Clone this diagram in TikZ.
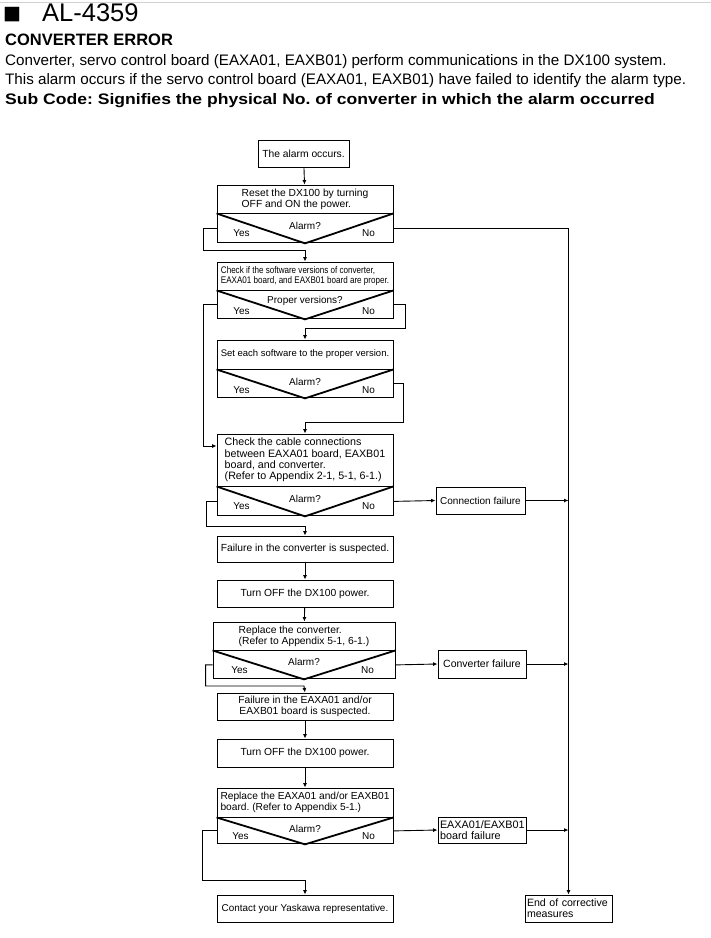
\documentclass[tikz,border=0pt]{standalone}
\usepackage{fontspec}
\setmainfont{Liberation Sans}
\newfontfamily\symfont{DejaVu Sans}
\newfontfamily\narrowfont[FakeStretch=0.84]{Liberation Sans}
\newfontfamily\widefont[FakeStretch=1.155]{Liberation Sans}
\frenchspacing
\usetikzlibrary{arrows.meta,positioning}

\tikzset{
  box/.style={draw, line width=0.9pt, inner sep=0pt, minimum width=176pt,
    font=\fontsize{10.3}{11}\selectfont},
  askbox/.style={draw, line width=0.9pt, inner sep=0pt, minimum width=176pt},
  vline/.style={line width=1.8pt},
  wire/.style={line width=0.9pt},
  flow/.style={line width=0.9pt, -{Latex[length=4.5pt,width=4pt]}},
  lbl/.style={font=\fontsize{10}{11}\selectfont, inner sep=0pt},
  head/.style={anchor=base west, inner sep=0pt},
}

\begin{document}
\begin{tikzpicture}[x=1pt,y=-1pt]
    \useasboundingbox (0,0) rectangle (711,938);

    % page header
    \draw[black!18, line width=1pt] (0,2) -- (711,2);
    \node[head] (bullet) at (3,19) {\symfont\fontsize{19}{19}\selectfont ■};
    \node[head] (code) at (42,21) {\fontsize{25.5}{25.5}\selectfont AL-4359};
    \node[head] (title) at (5,45) {\fontsize{16.5}{16.5}\selectfont\bfseries CONVERTER ERROR};
    \node[head] (desc1) at (5,65) {\fontsize{15.2}{15.2}\selectfont Converter, servo control board (EAXA01, EAXB01) perform communications in the DX100 system.};
    \node[head] (desc2) at (5,84) {\fontsize{15.2}{15.2}\selectfont This alarm occurs if the servo control board (EAXA01, EAXB01) have failed to identify the alarm type.};
    \node[head] (subcode) at (5,104) {\widefont\fontsize{15.2}{15.2}\selectfont\bfseries Sub Code: Signifies the physical No. of converter in which the alarm occurred};

    % main column
    \node[box, minimum width=91pt, minimum height=27pt] (alarm) at (303.5,153.5) {The alarm occurs.};

    \node[box, minimum height=28pt, align=left] (reset) at (305,199) {Reset the DX100 by turning\\OFF and ON the power.};
    \node[askbox, minimum height=29pt, below=0pt of reset] (resetq) {};
    \draw[vline] (resetq.north west) -- (resetq.south) -- (resetq.north east);
    \node[lbl] at ([yshift=-12pt]resetq.north) {Alarm?};
    \node[lbl] at ([xshift=25pt,yshift=-5pt]resetq.west) {Yes};
    \node[lbl] at ([xshift=-25pt,yshift=-5pt]resetq.east) {No};

    \node[box, minimum height=28pt, align=left, font=\narrowfont\fontsize{9.6}{10.5}\selectfont] (softchk) at (305,276) {Check if the software versions of converter,\\EAXA01 board, and EAXB01 board are proper.};
    \node[askbox, minimum height=28pt, below=0pt of softchk] (softq) {};
    \draw[vline] (softq.north west) -- (softq.south) -- (softq.north east);
    \node[lbl] at ([yshift=-10pt]softq.north) {Proper versions?};
    \node[lbl] at ([xshift=25pt,yshift=-6pt]softq.west) {Yes};
    \node[lbl] at ([xshift=-25pt,yshift=-6pt]softq.east) {No};

    \node[box, minimum height=29pt, font=\fontsize{9.5}{10.5}\selectfont] (softset) at (305,354.5) {Set each software to the proper version.};
    \node[askbox, minimum height=28pt, below=0pt of softset] (setq) {};
    \draw[vline] (setq.north west) -- (setq.south) -- (setq.north east);
    \node[lbl] at ([yshift=-12pt]setq.north) {Alarm?};
    \node[lbl] at ([xshift=25pt,yshift=-6pt]setq.west) {Yes};
    \node[lbl] at ([xshift=-25pt,yshift=-6pt]setq.east) {No};

    \node[box, minimum height=52pt, align=left, font=\fontsize{10.7}{11.3}\selectfont] (cable) at (305,460) {Check the cable connections\\between EAXA01 board, EAXB01\\board, and converter.\\(Refer to Appendix 2-1, 5-1, 6-1.)};
    \node[askbox, minimum height=29pt, below=0pt of cable] (cableq) {};
    \draw[vline] (cableq.north west) -- (cableq.south) -- (cableq.north east);
    \node[lbl] at ([yshift=-12pt]cableq.north) {Alarm?};
    \node[lbl] at ([xshift=25pt,yshift=-5pt]cableq.west) {Yes};
    \node[lbl] at ([xshift=-25pt,yshift=-5pt]cableq.east) {No};

    \node[box, minimum height=26pt] (convsus) at (305,549) {Failure in the converter is suspected.};
    \node[box, minimum height=27pt] (off1) at (305,593.5) {Turn OFF the DX100 power.};

    \node[box, minimum width=182pt, minimum height=28pt, align=left, font=\fontsize{10.3}{11}\selectfont] (convrep) at (304,636) {Replace the converter.\\(Refer to Appendix 5-1, 6-1.)};
    \node[askbox, minimum width=182pt, minimum height=28pt, below=0pt of convrep] (convq) {};
    \draw[vline] (convq.north west) -- (convq.south) -- (convq.north east);
    \node[lbl] at ([yshift=-11pt]convq.north) {Alarm?};
    \node[lbl] at ([xshift=27pt,yshift=-5pt]convq.west) {Yes};
    \node[lbl] at ([xshift=-28pt,yshift=-5pt]convq.east) {No};

    \node[box, minimum height=27pt, align=center] (boardsus) at (305,706.5) {Failure in the EAXA01 and/or\\EAXB01 board is suspected.};
    \node[box, minimum height=28pt] (off2) at (305,753) {Turn OFF the DX100 power.};

    \node[box, minimum height=29pt, align=left, font=\fontsize{10.2}{11}\selectfont] (boardrep) at (305,802.5) {Replace the EAXA01 and/or EAXB01\\board. (Refer to Appendix 5-1.)};
    \node[askbox, minimum height=26pt, below=0pt of boardrep] (boardq) {};
    \draw[vline] (boardq.north west) -- (boardq.south) -- (boardq.north east);
    \node[lbl] at ([yshift=-11pt]boardq.north) {Alarm?};
    \node[lbl] at ([xshift=24pt,yshift=-5pt]boardq.west) {Yes};
    \node[lbl] at ([xshift=-25pt,yshift=-5pt]boardq.east) {No};

    \node[box, minimum height=27pt, font=\fontsize{9.9}{11}\selectfont] (contact) at (305,908.5) {Contact your Yaskawa representative.};

    % results on the right
    \node[box, minimum width=89pt, minimum height=27pt, font=\fontsize{10}{11}\selectfont] (confail) at (480.5,500.5) {Connection failure};
    \node[box, minimum width=88pt, minimum height=28pt, font=\fontsize{10.5}{11}\selectfont] (convfail) at (482,664) {Converter failure};
    \node[box, minimum width=88pt, minimum height=26pt, align=left, text width=84pt, font=\fontsize{10.8}{10.8}\selectfont] (boardfail) at (482,830) {EAXA01/EAXB01\\board failure};
    \node[box, minimum width=87pt, minimum height=27pt, align=left, text width=83pt, font=\fontsize{10.6}{10.8}\selectfont] (done) at (568.5,908.5) {End of corrective\\measures};

    % bend points
    \coordinate (j1) at (305,250);
    \coordinate (j2) at (305,328);
    \coordinate (j3) at (305,422);
    \coordinate (j4) at (305,526);
    \coordinate (j5) at (304,686);
    \coordinate (j6) at (305,880);

    % connectors
    \draw[flow] (alarm) -- (reset);
    \draw[flow] (resetq.west) -- ++(-13,0) |- (j1) -- (softchk.north);
    \draw[flow] (resetq.east) -| (done.north);
    \draw[flow] (softq.west) -- ++(-13,0) |- ([yshift=14pt]cable.west);
    \draw[flow] (softq.east) -- ++(12,0) |- (j2) -- (softset.north);
    \draw[flow] (setq.east) -- ++(10,0) |- (j3) -- (cable.north);
    \draw[flow] (cableq.west) -- ++(-10,0) |- (j4) -- (convsus.north);
    \draw[flow] (cableq.east) -- (confail.west);
    \draw[flow] (confail.east) -- (confail.east -| done.north);
    \draw[flow] (convsus) -- (off1);
    \draw[flow] (off1) -- (convrep);
    \draw[flow] (convq.west) -- ++(-7,0) |- (j5) -- (boardsus.north);
    \draw[flow] (convq.east) -- (convfail.west);
    \draw[flow] (convfail.east) -- (convfail.east -| done.north);
    \draw[flow] (boardsus) -- (off2);
    \draw[flow] (off2) -- (boardrep);
    \draw[flow] (boardq.west) -- ++(-14,0) |- (j6) -- (contact.north);
    \draw[flow] (boardq.east) -- (boardfail.west);
    \draw[flow] (boardfail.east) -- (boardfail.east -| done.north);
\end{tikzpicture}
\end{document}
